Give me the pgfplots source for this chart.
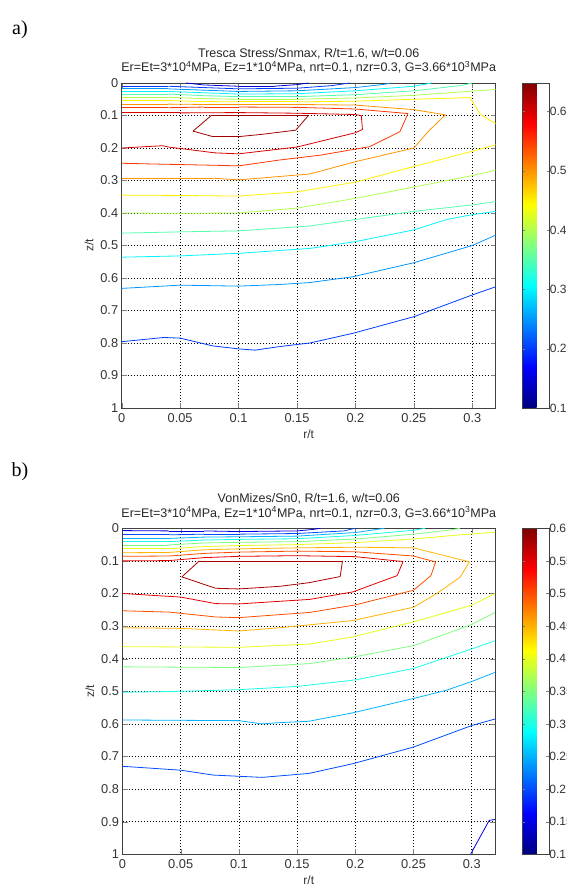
\documentclass[border=0pt]{standalone}
\usepackage{fontspec}
\setmainfont{Liberation Sans}
\newfontfamily\serif{Liberation Serif}
\usepackage{pgfplots}
\pgfplotsset{compat=1.18}

\pgfplotsset{
  lv/.style={mesh, point meta=#1, line width=0.8pt},
  mat/.style={
    scale only axis, width=374pt, height=325pt,
    xmin=0, xmax=0.32, ymin=0, ymax=1, y dir=reverse,
    xtick={0,0.05,0.1,0.15,0.2,0.25,0.3},
    xticklabels={0,0.05,0.1,0.15,0.2,0.25,0.3},
    ytick={0,0.1,0.2,0.3,0.4,0.5,0.6,0.7,0.8,0.9,1},
    yticklabels={0,0.1,0.2,0.3,0.4,0.5,0.6,0.7,0.8,0.9,1},
    grid=major, grid style={black, line width=0.5pt, dash pattern=on 1pt off 2pt},
    tick align=inside, major tick length=5pt,
    axis line style={black!75, line width=0.8pt},
    tick label style={font=\fontsize{12.8}{14}\selectfont, text=black!80},
    xticklabel style={yshift=-2pt},
    label style={font=\fontsize{12}{14}\selectfont, text=black!80},
    xlabel={r/t}, ylabel={z/t},
    title style={align=center, font=\fontsize{12.5}{14.5}\selectfont, text=black!85},
    colormap/jet, colorbar,
    colorbar shift/.style={xshift=23pt},
  },
  cbar/.style={
    ytick pos=both, yticklabel pos=right, tick align=inside, major tick length=3pt,
    axis line style={black!75, line width=0.8pt},
    yticklabel style={xshift=-3.5pt},
    tick label style={font=\fontsize{12}{14}\selectfont, text=black!80},
  },
}

\begin{document}
\begin{tikzpicture}
\useasboundingbox (0pt,0pt) rectangle (566pt,887pt);
\clip (0pt,0pt) rectangle (566pt,887pt);

\node[font=\serif\fontsize{20}{22}\selectfont] at (20pt,857pt) {a)};
\node[font=\serif\fontsize{20}{22}\selectfont] at (20pt,415pt) {b)};

% ---------- a) Tresca
\begin{axis}[mat, at={(121.7pt,479pt)}, anchor=south west,
  point meta min=0.1, point meta max=0.648,
  title={Tresca Stress/Snmax, R/t=1.6, w/t=0.06\\Er=Et=3*10\textsuperscript{4}MPa, Ez=1*10\textsuperscript{4}MPa, nrt=0.1, nzr=0.3, G=3.66*10\textsuperscript{3}MPa},
  colorbar style={cbar, width=27.5pt, ytick={0.1,0.2,0.3,0.4,0.5,0.6},
    yticklabels={0.1,0.2,0.3,0.4,0.5,0.6}},
]
\addplot[lv=0.15] coordinates {(0.055,0) (0.07,0.006) (0.1,0.01) (0.13,0.01) (0.15,0.005) (0.16,0)};
\addplot[lv=0.2] coordinates {(0,0.01) (0.04,0.01) (0.07,0.014) (0.1,0.018) (0.15,0.016) (0.18,0.008) (0.195,0)};
\addplot[lv=0.25] coordinates {(0,0.018) (0.04,0.018) (0.07,0.022) (0.1,0.026) (0.15,0.024) (0.2,0.014) (0.225,0.004) (0.23,0)};
\addplot[lv=0.3] coordinates {(0,0.026) (0.04,0.026) (0.07,0.03) (0.1,0.034) (0.15,0.033) (0.2,0.024) (0.25,0.01) (0.265,0)};
\addplot[lv=0.35] coordinates {(0,0.034) (0.04,0.034) (0.07,0.039) (0.1,0.042) (0.15,0.042) (0.2,0.036) (0.25,0.024) (0.29,0.008) (0.3,0)};
\addplot[lv=0.4] coordinates {(0,0.044) (0.04,0.044) (0.07,0.048) (0.1,0.05) (0.15,0.05) (0.2,0.046) (0.25,0.038) (0.3,0.025) (0.32,0.02)};
\addplot[lv=0.45] coordinates {(0,0.054) (0.04,0.054) (0.07,0.057) (0.1,0.058) (0.15,0.058) (0.2,0.056) (0.25,0.05) (0.298,0.045) (0.307,0.097) (0.32,0.125)};
\addplot[lv=0.5] coordinates {(0,0.065) (0.04,0.065) (0.07,0.066) (0.1,0.066) (0.15,0.066) (0.2,0.068) (0.25,0.082) (0.277,0.098) (0.262,0.15) (0.25,0.2) (0.2,0.242) (0.161,0.28) (0.1,0.298) (0.078,0.293) (0,0.293)};
\addplot[lv=0.55] coordinates {(0,0.076) (0.04,0.076) (0.07,0.074) (0.1,0.074) (0.15,0.075) (0.2,0.08) (0.245,0.094) (0.238,0.15) (0.212,0.196) (0.17,0.222) (0.135,0.237) (0.1,0.255) (0.078,0.253) (0.037,0.25) (0,0.247)};
\addplot[lv=0.6] coordinates {(0,0.092) (0.05,0.092) (0.1,0.091) (0.15,0.093) (0.2,0.097) (0.205,0.1) (0.206,0.143) (0.2,0.153) (0.15,0.197) (0.1,0.218) (0.08,0.215) (0.04,0.197) (0.035,0.193) (0,0.2)};
\addplot[lv=0.63] coordinates {(0.061,0.148) (0.077,0.099) (0.16,0.099) (0.149,0.145) (0.12,0.158) (0.1,0.165) (0.078,0.165) (0.061,0.148)};
\addplot[lv=0.45] coordinates {(0,0.345) (0.05,0.346) (0.1,0.348) (0.15,0.335) (0.2,0.305) (0.25,0.257) (0.3,0.21) (0.32,0.19)};
\addplot[lv=0.4] coordinates {(0,0.4) (0.05,0.401) (0.1,0.4) (0.15,0.385) (0.2,0.355) (0.25,0.32) (0.3,0.285) (0.32,0.268)};
\addplot[lv=0.35] coordinates {(0,0.462) (0.05,0.458) (0.1,0.455) (0.161,0.44) (0.2,0.42) (0.25,0.395) (0.3,0.375) (0.32,0.365)};
\addplot[lv=0.3] coordinates {(0,0.536) (0.05,0.532) (0.1,0.524) (0.161,0.509) (0.2,0.488) (0.25,0.452) (0.278,0.42) (0.3,0.405) (0.32,0.395)};
\addplot[lv=0.25] coordinates {(0,0.632) (0.05,0.622) (0.1,0.625) (0.135,0.62) (0.161,0.614) (0.198,0.596) (0.25,0.553) (0.3,0.5) (0.32,0.468)};
\addplot[lv=0.2] coordinates {(0,0.796) (0.036,0.783) (0.05,0.785) (0.078,0.809) (0.1,0.818) (0.114,0.822) (0.135,0.811) (0.161,0.8) (0.198,0.77) (0.25,0.719) (0.3,0.652) (0.32,0.627)};
\end{axis}

% ---------- b) von Mises
\begin{axis}[mat, at={(122.5pt,32.7pt)}, anchor=south west, width=372.5pt, height=326pt,
  point meta min=0.1, point meta max=0.6,
  title={VonMizes/Sn0, R/t=1.6, w/t=0.06\\Er=Et=3*10\textsuperscript{4}MPa, Ez=1*10\textsuperscript{4}MPa, nrt=0.1, nzr=0.3, G=3.66*10\textsuperscript{3}MPa},
  colorbar style={cbar, width=27pt, ytick={0.1,0.15,0.2,0.25,0.3,0.35,0.4,0.45,0.5,0.55,0.6},
    yticklabels={0.1,0.15,0.2,0.25,0.3,0.35,0.4,0.45,0.5,0.55,0.6}},
]
\addplot[lv=0.15] coordinates {(0,0.007) (0.04,0.008) (0.07,0.008) (0.1,0.01) (0.15,0.008) (0.165,0.003) (0.17,0)};
\addplot[lv=0.2] coordinates {(0,0.02) (0.04,0.02) (0.07,0.018) (0.1,0.018) (0.15,0.016) (0.19,0.008) (0.2,0)};
\addplot[lv=0.25] coordinates {(0,0.031) (0.04,0.031) (0.07,0.027) (0.1,0.026) (0.15,0.024) (0.2,0.013) (0.225,0)};
\addplot[lv=0.3] coordinates {(0,0.041) (0.04,0.041) (0.07,0.036) (0.1,0.034) (0.15,0.032) (0.2,0.022) (0.25,0.006) (0.26,0)};
\addplot[lv=0.35] coordinates {(0,0.051) (0.04,0.051) (0.07,0.045) (0.1,0.043) (0.15,0.041) (0.2,0.033) (0.25,0.018) (0.28,0.006) (0.29,0)};
\addplot[lv=0.4] coordinates {(0,0.063) (0.04,0.063) (0.07,0.056) (0.1,0.053) (0.15,0.05) (0.2,0.044) (0.25,0.033) (0.29,0.02) (0.32,0.012)};
\addplot[lv=0.45] coordinates {(0,0.075) (0.04,0.074) (0.07,0.066) (0.1,0.063) (0.15,0.06) (0.2,0.058) (0.25,0.06) (0.298,0.103) (0.29,0.15) (0.27,0.2) (0.25,0.242) (0.198,0.283) (0.135,0.305) (0.1,0.315) (0.05,0.307) (0,0.305)};
\addplot[lv=0.5] coordinates {(0,0.086) (0.04,0.085) (0.07,0.077) (0.1,0.073) (0.15,0.07) (0.2,0.072) (0.25,0.085) (0.269,0.103) (0.265,0.145) (0.25,0.19) (0.2,0.235) (0.161,0.258) (0.1,0.274) (0.08,0.272) (0.04,0.257) (0,0.253)};
\addplot[lv=0.55] coordinates {(0,0.1) (0.04,0.099) (0.07,0.09) (0.1,0.086) (0.15,0.084) (0.2,0.087) (0.241,0.102) (0.236,0.145) (0.198,0.195) (0.161,0.218) (0.1,0.232) (0.08,0.231) (0.05,0.211) (0,0.2)};
\addplot[lv=0.58] coordinates {(0.051,0.149) (0.066,0.1) (0.189,0.1) (0.187,0.148) (0.16,0.167) (0.135,0.178) (0.1,0.186) (0.08,0.184) (0.051,0.149)};
\addplot[lv=0.4] coordinates {(0,0.363) (0.05,0.364) (0.1,0.365) (0.161,0.355) (0.198,0.333) (0.25,0.287) (0.3,0.236) (0.32,0.2)};
\addplot[lv=0.35] coordinates {(0,0.425) (0.05,0.426) (0.1,0.427) (0.161,0.415) (0.198,0.395) (0.25,0.36) (0.3,0.295) (0.32,0.258)};
\addplot[lv=0.3] coordinates {(0,0.503) (0.05,0.5) (0.1,0.495) (0.15,0.485) (0.2,0.465) (0.25,0.43) (0.3,0.37) (0.32,0.345)};
\addplot[lv=0.25] coordinates {(0,0.588) (0.05,0.589) (0.1,0.59) (0.12,0.6) (0.135,0.596) (0.16,0.592) (0.198,0.566) (0.25,0.522) (0.278,0.497) (0.3,0.47) (0.32,0.442)};
\addplot[lv=0.2] coordinates {(0,0.73) (0.05,0.742) (0.078,0.757) (0.12,0.764) (0.16,0.752) (0.198,0.722) (0.25,0.671) (0.3,0.605) (0.32,0.585)};
\addplot[lv=0.15] coordinates {(0.299,1) (0.315,0.896) (0.32,0.893)};
\end{axis}
\end{tikzpicture}
\end{document}
